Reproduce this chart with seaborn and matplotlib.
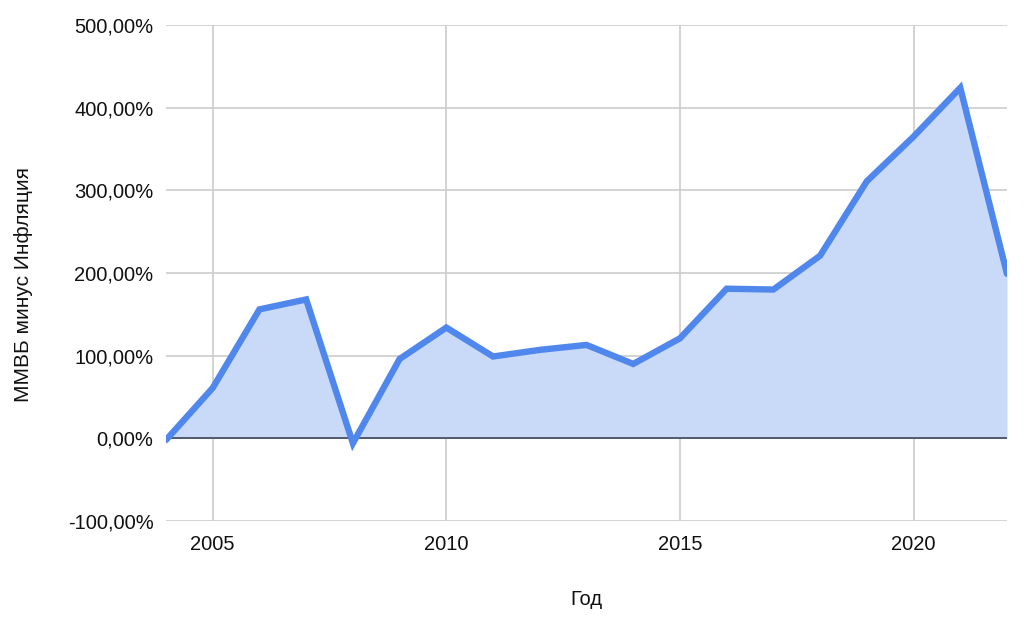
import matplotlib
matplotlib.use("Agg")
import matplotlib.pyplot as plt
import seaborn as sns
import pandas as pd
from matplotlib.ticker import FuncFormatter, FixedLocator

years = [2004, 2005, 2006, 2007, 2008, 2009, 2010, 2011, 2012, 2013,
         2014, 2015, 2016, 2017, 2018, 2019, 2020, 2021, 2022]
values = [-2, 61, 156, 168, -6, 96, 134, 99, 107, 113,
          90, 121, 181, 180, 221, 311, 365, 424, 199]
x_ticks = [2005, 2010, 2015, 2020]
y_ticks = [-100, 0, 100, 200, 300, 400, 500]
x_title = "Год"
y_title = "ММВБ минус Инфляция"

df = pd.DataFrame({"year": years, "value": values})

sns.set_theme(style="whitegrid")
plt.rcParams["font.family"] = ["Liberation Sans", "DejaVu Sans"]

fig = plt.figure(figsize=(10.24, 6.22), dpi=100)
ax = fig.add_axes([166/1024, 1 - 521/622, (1007-166)/1024, (521-25)/622])

ax.fill_between(df["year"], df["value"], 0, color="#c9daf8", linewidth=0, zorder=1)
ax.axhline(0, color="#3c4557", linewidth=1.2, zorder=2)
sns.lineplot(data=df, x="year", y="value", ax=ax, color="#5087ec",
             linewidth=4.6, zorder=3, solid_joinstyle="miter")

ax.set_xlim(2004, 2022)
ax.set_ylim(-100, 500)
ax.xaxis.set_major_locator(FixedLocator(x_ticks))
ax.yaxis.set_major_locator(FixedLocator(y_ticks))
ax.yaxis.set_major_formatter(FuncFormatter(lambda v, p: f"{v:.2f}%".replace(".", ",")))
ax.grid(True, color="#cccccc", linewidth=1.2)
ax.set_axisbelow(True)
for s in ax.spines.values():
    s.set_visible(False)
ax.tick_params(axis="both", length=0, labelsize=14.5, colors="#111111")
ax.tick_params(axis="y", pad=9)
ax.tick_params(axis="x", pad=10)
ax.set_xlabel(x_title, fontsize=14.5, color="#111111", labelpad=26)
ax.set_ylabel(y_title, fontsize=15, color="#111111")
ax.yaxis.set_label_coords(-0.158, 0.476)

fig.savefig("out.png", dpi=100, facecolor="white")
